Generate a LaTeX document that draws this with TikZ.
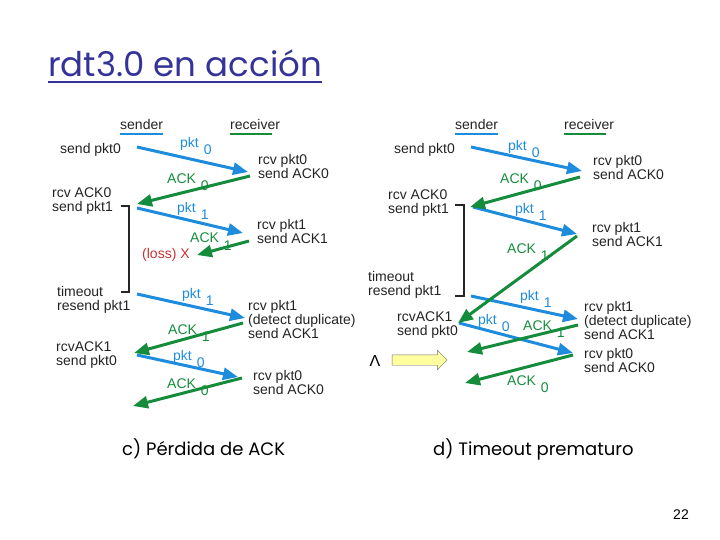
\documentclass[tikz,border=0pt]{standalone}
\usepackage{fontspec}
\setmainfont{Liberation Sans}
\newfontfamily\slidefont{Poppins}
\usetikzlibrary{arrows.meta, shapes.arrows}
\definecolor{pktblue}{RGB}{30,140,220}
\definecolor{ackgreen}{RGB}{20,140,60}
\definecolor{titleblue}{RGB}{51,51,153}
\definecolor{lossred}{RGB}{200,50,50}
\definecolor{hintfill}{RGB}{255,255,160}
\definecolor{hintline}{RGB}{110,110,110}
\definecolor{evtext}{RGB}{35,35,35}
\newcommand{\seq}[2]{#1\hspace{5pt}\raisebox{-7pt}{#2}}

\begin{document}
\begin{tikzpicture}[x=1pt, y=-1pt,
  font=\fontsize{14}{14}\selectfont,
  ev/.style={anchor=west, align=left, inner sep=0pt, text=evtext},
  lbl/.style={anchor=base west, inner sep=0pt},
  head/.style={anchor=base west, inner sep=0pt, text=evtext},
  pkt/.style={-{Triangle[length=15pt, width=12pt]}, line width=3pt, draw=pktblue},
  ack/.style={-{Triangle[length=15pt, width=12pt]}, line width=3pt, draw=ackgreen},
  tmr/.style={line width=2pt, draw=black!85},
  caption/.style={font=\slidefont\fontsize{18}{18}\selectfont, inner sep=0pt, anchor=base west},
]
\useasboundingbox (0,0) rectangle (720,540);

% title
\node[font=\slidefont\fontsize{34}{34}\selectfont, text=titleblue, anchor=base west, inner sep=0pt] (title) at (48,77) {rdt3.0 en acción};
\draw[titleblue, line width=1.8pt] ([yshift=-5pt]title.base west) -- ([yshift=-5pt]title.base east);

% ---- c) lost ACK ----
\node[head] (csnd) at (120,130) {sender};
\node[head] (crcv) at (230,130) {receiver};
\draw[pktblue, line width=2.5pt] ([yshift=-4pt]csnd.base west) -- ([yshift=-4pt]csnd.base east);
\draw[ackgreen, line width=2.5pt] ([yshift=-4pt]crcv.base west) -- ([yshift=-4pt,xshift=-8pt]crcv.base east);

\node[ev] (cs1) at (60,150) {send pkt0};
\node[ev] (cr1) at (258,166) {rcv pkt0\\send ACK0};
\node[ev] (cs2) at (52,201) {rcv ACK0\\send pkt1};
\node[ev] (cr2) at (257,231) {rcv pkt1\\send ACK1};
\node[ev, text=lossred] (closs) at (142,255) {(loss)\hspace{4pt}X};
\node[ev] (cs3) at (57,300) {timeout\\resend pkt1};
\node[ev] (cr3) at (248,319) {rcv pkt1\\(detect duplicate)\\send ACK1};
\node[ev] (cs4) at (56,355) {rcvACK1\\send pkt0};
\node[ev] (cr4) at (253,382) {rcv pkt0\\send ACK0};

\foreach \n/\x/\y in {c1a/137/147, c1b/248/172, c2a/250/176, c2b/137/204,
    c3a/137/208, c3b/243/233, c4a/249/241, c4b/197/255,
    c5a/137/294, c5b/245/318, c6a/243/323, c6b/134/353,
    c7a/137/355, c7b/238/377, c8a/242/378, c8b/133/406}
  \coordinate (\n) at (\x,\y);
\foreach \a/\b in {c1a/c1b, c3a/c3b, c5a/c5b, c7a/c7b}
  \draw[pkt] (\a) -- (\b);
\foreach \a/\b in {c2a/c2b, c4a/c4b, c6a/c6b, c8a/c8b}
  \draw[ack] (\a) -- (\b);

\node[lbl, text=pktblue] (cl1) at (180,148) {\seq{pkt}{0}};
\node[lbl, text=ackgreen] (cl2) at (167,184) {\seq{ACK}{0}};
\node[lbl, text=pktblue] (cl3) at (177,213) {\seq{pkt}{1}};
\node[lbl, text=ackgreen] (cl4) at (190,243) {\seq{ACK}{1}};
\node[lbl, text=pktblue] (cl5) at (182,298) {\seq{pkt}{1}};
\node[lbl, text=ackgreen] (cl6) at (168,334) {\seq{ACK}{1}};
\node[lbl, text=pktblue] (cl7) at (173,360) {\seq{pkt}{0}};
\node[lbl, text=ackgreen] (cl8) at (167,388) {\seq{ACK}{0}};

\coordinate (ct1) at (121,206);
\coordinate (ct2) at (121,292);
\draw[tmr] (ct1) -- ++(8,0) |- (ct2);

% ---- d) premature timeout ----
\node[head] (dsnd) at (455,130) {sender};
\node[head] (drcv) at (564,130) {receiver};
\draw[pktblue, line width=2.5pt] ([yshift=-4pt]dsnd.base west) -- ([yshift=-4pt]dsnd.base east);
\draw[ackgreen, line width=2.5pt] ([yshift=-4pt]drcv.base west) -- ([yshift=-4pt,xshift=-8pt]drcv.base east);

\node[ev] (ds1) at (394,150) {send pkt0};
\node[ev] (dr1) at (593,167) {rcv pkt0\\send ACK0};
\node[ev] (ds2) at (388,203) {rcv ACK0\\send pkt1};
\node[ev] (dr2) at (592,234) {rcv pkt1\\send ACK1};
\node[ev] (ds3) at (368,285) {timeout\\resend pkt1};
\node[ev] (dr3) at (584,320) {rcv pkt1\\(detect duplicate)\\send ACK1};
\node[ev] (ds4) at (397,325) {rcvACK1\\send pkt0};
\node[ev] (dr4) at (584,360) {rcv pkt0\\send ACK0};

\foreach \n/\x/\y in {d1a/471/147, d1b/582/171, d2a/580/177, d2b/470/207,
    d3a/473/207, d3b/577/234, d4a/577/236, d4b/458/323,
    d5a/471/296, d5b/578/319, d6a/459/323, d6b/573/353,
    d7a/578/325, d7b/467/352, d8a/573/355, d8b/465/383}
  \coordinate (\n) at (\x,\y);
\foreach \a/\b in {d1a/d1b, d3a/d3b, d5a/d5b, d6a/d6b}
  \draw[pkt] (\a) -- (\b);
\foreach \a/\b in {d2a/d2b, d4a/d4b, d7a/d7b, d8a/d8b}
  \draw[ack] (\a) -- (\b);

\node[lbl, text=pktblue] (dl1) at (508,151) {\seq{pkt}{0}};
\node[lbl, text=ackgreen] (dl2) at (500,184) {\seq{ACK}{0}};
\node[lbl, text=pktblue] (dl3) at (515,214) {\seq{pkt}{1}};
\node[lbl, text=ackgreen] (dl4) at (507,253) {\seq{ACK}{1}};
\node[lbl, text=pktblue] (dl5) at (520,300) {\seq{pkt}{1}};
\node[lbl, text=pktblue] (dl6) at (478,324) {\seq{pkt}{0}};
\node[lbl, text=ackgreen] (dl7) at (523,330) {\seq{ACK}{1}};
\node[lbl, text=ackgreen] (dl8) at (507,385) {\seq{ACK}{0}};

\coordinate (dt1) at (455,205);
\coordinate (dt2) at (455,296);
\draw[tmr] (dt1) -- ++(9,0) |- (dt2);

% hint arrow
\node[font=\fontsize{16}{16}\selectfont, inner sep=0pt] (lam) at (375,361) {Λ};
\node[single arrow, draw=hintline, fill=hintfill, minimum height=55pt, minimum width=19pt,
      inner sep=5pt, single arrow head extend=4.5pt] (hint) at (417,360) {};

% captions
\node[caption] (capc) at (122,455) {c) Pérdida de ACK};
\node[caption] (capd) at (433,455) {d) Timeout prematuro};
\node[inner sep=0pt] (pgno) at (681,515) {22};
\end{tikzpicture}
\end{document}
